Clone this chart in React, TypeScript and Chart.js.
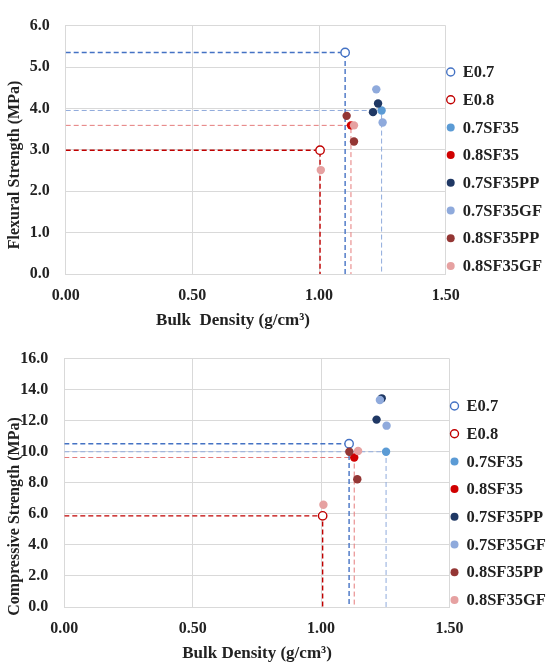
import React, { useEffect, useRef } from "react";
import { Chart, registerables } from "chart.js";

Chart.register(...registerables);

const FONT = "'Liberation Serif', 'Times New Roman', serif";

// series shown in the legend (same for both panels)
const seriesNames = ["E0.7", "E0.8", "0.7SF35", "0.8SF35", "0.7SF35PP", "0.7SF35GF", "0.8SF35PP", "0.8SF35GF"];
const seriesColors = ["#4472C4", "#C00000", "#5B9BD5", "#D00000", "#1F3864", "#8FAADC", "#943634", "#E6A1A1"];
const seriesOpen = [true, true, false, false, false, false, false, false];

// flexural strength panel
const flexDensity = [[1.103], [1.004], [1.247], [1.126], [1.233, 1.213], [1.226, 1.251], [1.109, 1.138], [1.138, 1.007]];
const flexStrength = [[5.35], [2.99], [3.95], [3.59], [4.12, 3.91], [4.46, 3.66], [3.82, 3.2], [3.59, 2.51]];

// compressive strength panel
const compDensity = [[1.109], [1.006], [1.253], [1.129], [1.236, 1.216], [1.229, 1.255], [1.11, 1.141], [1.144, 1.009]];
const compStrength = [[10.52], [5.87], [10.0], [9.63], [13.44, 12.07], [13.33, 11.68], [10.0, 8.23], [10.05, 6.59]];

// dashed guides drop from the first point of these series
const guideSeries = [0, 1, 2, 3];
const guideColors = ["#4472C4", "#C00000", "#8FAADC", "#E57B7B"];
const guideWidths = [1.4, 1.4, 1, 1];

const xTicks = [0, 0.5, 1.0, 1.5];

type PanelProps = {
  density: number[][];
  strength: number[][];
  yMax: number;
  yStep: number;
  yTitle: string;
  xTitle: string;
  padTop: number;
  yWidth: number;
  areaRight: number;
  legendTop: number;
  xTitleX: number;
  yTitleY: number;
};

const overlay = {
  id: "overlay",
  afterDraw(chart: any, _args: any, opts: any) {
    const { ctx, chartArea } = chart;
    ctx.save();
    ctx.font = `bold 16.5px ${FONT}`;
    ctx.fillStyle = "#222";
    ctx.textBaseline = "middle";
    // legend
    seriesNames.forEach((name, i) => {
      const y = opts.legendTop + i * 27.7;
      const x = chartArea.right + 5;
      ctx.beginPath();
      ctx.arc(x, y, 4, 0, Math.PI * 2);
      if (seriesOpen[i]) {
        ctx.fillStyle = "#fff";
        ctx.fill();
        ctx.lineWidth = 1.4;
        ctx.strokeStyle = seriesColors[i];
        ctx.stroke();
      } else {
        ctx.fillStyle = seriesColors[i];
        ctx.fill();
      }
      ctx.fillStyle = "#222";
      ctx.textAlign = "left";
      ctx.fillText(name, chartArea.right + 17, y + 1);
    });
    // axis titles
    ctx.textAlign = "center";
    ctx.font = `bold 17px ${FONT}`;
    ctx.fillText(opts.xTitle, opts.xTitleX, 321);
    ctx.font = `bold 16px ${FONT}`;
    ctx.translate(15, opts.yTitleY);
    ctx.rotate(-Math.PI / 2);
    ctx.fillText(opts.yTitle, 0, 0);
    ctx.restore();
  },
};

const Panel: React.FC<PanelProps> = (p) => {
  const canvasRef = useRef<HTMLCanvasElement>(null);

  useEffect(() => {
    const ctx = canvasRef.current?.getContext("2d");
    if (!ctx) return;

    const pointSets = seriesNames.map((name, i) => ({
      label: name,
      data: p.density[i].map((x, j) => ({ x, y: p.strength[i][j] })),
      showLine: false,
      pointRadius: 4.2,
      pointHoverRadius: 4.2,
      pointBackgroundColor: seriesOpen[i] ? "#fff" : seriesColors[i],
      pointBorderColor: seriesColors[i],
      pointBorderWidth: seriesOpen[i] ? 1.4 : 0,
      order: -i,
    }));

    const guideSets = guideSeries.map((s, k) => {
      const gx = p.density[s][0];
      const gy = p.strength[s][0];
      return {
        label: "guide" + k,
        data: [
          { x: 0, y: gy },
          { x: gx, y: gy },
          { x: gx, y: 0 },
        ],
        showLine: true,
        borderColor: guideColors[k],
        borderWidth: guideWidths[k],
        borderDash: [5, 3],
        pointRadius: 0,
        fill: false,
        order: 10 + k,
      };
    });

    const chart = new Chart(ctx, {
      type: "scatter",
      data: { datasets: [...pointSets, ...guideSets] as any },
      options: {
        animation: false,
        responsive: true,
        maintainAspectRatio: false,
        layout: { padding: { top: p.padTop, right: 550 - p.areaRight, left: 0, bottom: 0 } },
        plugins: {
          legend: { display: false },
          tooltip: { enabled: false },
          overlay: {
            legendTop: p.legendTop,
            xTitle: p.xTitle,
            yTitle: p.yTitle,
            xTitleX: p.xTitleX,
            yTitleY: p.yTitleY,
          },
        } as any,
        scales: {
          x: {
            type: "linear",
            min: 0,
            max: 1.5,
            afterBuildTicks: (s: any) => {
              s.ticks = xTicks.map((v) => ({ value: v }));
            },
            afterFit: (s: any) => {
              s.height = 59;
            },
            grid: { color: "#D9D9D9", drawTicks: false },
            border: { color: "#D9D9D9" },
            ticks: {
              padding: 12,
              color: "#222",
              font: { family: FONT, size: 16, weight: "bold" },
              callback: (v: any) => Number(v).toFixed(2),
            },
          },
          y: {
            min: 0,
            max: p.yMax,
            afterFit: (s: any) => {
              s.width = p.yWidth;
            },
            grid: { color: "#D9D9D9", drawTicks: false },
            border: { color: "#D9D9D9" },
            ticks: {
              stepSize: p.yStep,
              padding: 16,
              color: "#222",
              font: { family: FONT, size: 16, weight: "bold" },
              callback: (v: any) => Number(v).toFixed(1),
            },
          },
        },
      },
      plugins: [overlay],
    });

    return () => {
      chart.destroy();
    };
  }, []);

  return (
    <div style={{ position: "relative", width: 550, height: 333 }}>
      <canvas ref={canvasRef} />
    </div>
  );
};

export default function App() {
  useEffect(() => {
    document.body.style.margin = "0";
  }, []);

  return (
    <div style={{ width: 550, height: 666, background: "#fff" }}>
      <Panel
        density={flexDensity}
        strength={flexStrength}
        yMax={6}
        yStep={1}
        yTitle="Flexural Strength (MPa)"
        xTitle="Bulk  Density (g/cm³)"
        padTop={13.3}
        yWidth={65.7}
        areaRight={445.7}
        legendTop={72}
        xTitleX={233}
        yTitleY={165}
      />
      <Panel
        density={compDensity}
        strength={compStrength}
        yMax={16}
        yStep={2}
        yTitle="Compressive Strength (MPa)"
        xTitle="Bulk Density (g/cm³)"
        padTop={16}
        yWidth={64.3}
        areaRight={449.5}
        legendTop={73}
        xTitleX={257}
        yTitleY={183.5}
      />
    </div>
  );
}
